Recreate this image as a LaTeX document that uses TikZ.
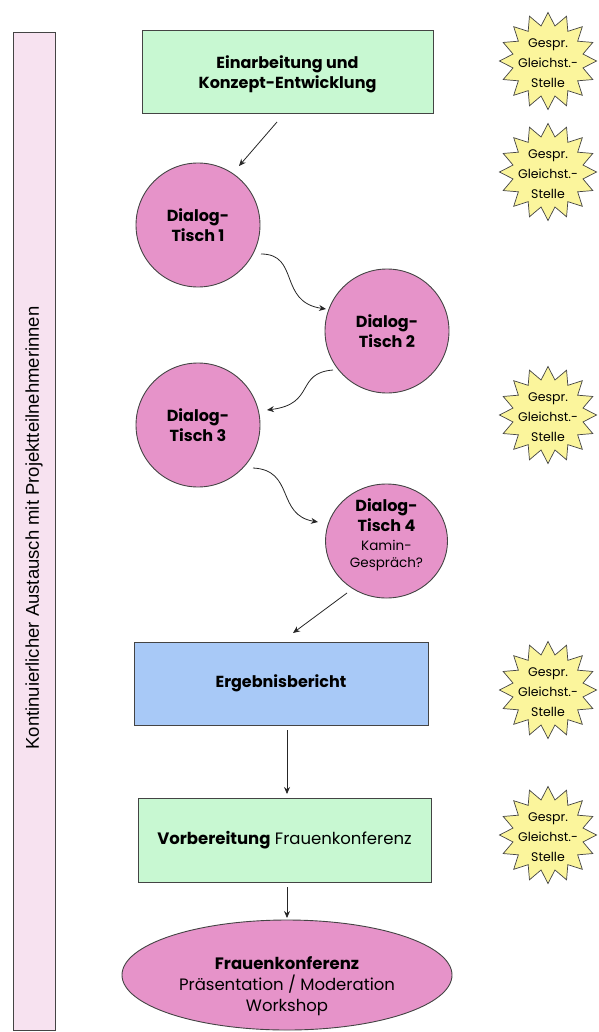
\documentclass[tikz,border=0pt]{standalone}
\usepackage{fontspec}
\setmainfont{Poppins}
\newfontfamily\barfont{Liberation Sans}
\usetikzlibrary{shapes.geometric,arrows.meta}
\definecolor{boxgreen}{HTML}{C8F8D2}
\definecolor{boxblue}{HTML}{A8C9F7}
\definecolor{dpink}{HTML}{E693C9}
\definecolor{barpink}{HTML}{F7E2F0}
\definecolor{staryellow}{HTML}{FBF59C}
\definecolor{edge}{HTML}{444444}
\tikzset{
  stepbox/.style={draw=edge, line width=0.9pt, rectangle, inner sep=0pt, align=center, font=\fontsize{16}{20}\selectfont},
  dialog/.style={draw=edge, line width=0.9pt, circle, fill=dpink, inner sep=0pt, minimum size=124pt, align=center, font=\bfseries\fontsize{16}{20}\selectfont},
  starshape/.style={draw=edge, line width=0.7pt, star, star points=16, star point ratio=1.36, fill=staryellow, inner sep=0pt, minimum size=97pt},
  startext/.style={align=center, font=\fontsize{12.5}{20}\selectfont},
  conn/.style={draw=black!85, line width=0.8pt, -{Stealth[length=7pt,width=6pt]}},
}
\begin{document}
\begin{tikzpicture}[x=1pt,y=-1pt]
\useasboundingbox (0,0) rectangle (598,1032);
% left bar
\node[draw=edge, line width=0.9pt, fill=barpink, minimum width=42pt, minimum height=998pt, inner sep=0pt] (bar) at (34,531) {};
\node[rotate=90, font=\barfont\fontsize{18.5}{20}\selectfont] (bartext) at (34,528) {Kontinuierlicher Austausch mit Projektteilnehmerinnen};
% boxes
\node[stepbox, fill=boxgreen, minimum width=291pt, minimum height=83pt] (b1) at (287.5,71.5) {};
\node[align=center, font=\bfseries\fontsize{16}{20}\selectfont] (b1t) at (287.5,74) {Einarbeitung und\\Konzept-Entwicklung};
\node[dialog] (c1) at (198,225) {Dialog-\\Tisch 1};
\node[dialog] (c2) at (387,331) {Dialog-\\Tisch 2};
\node[dialog] (c3) at (198,425) {Dialog-\\Tisch 3};
\node[draw=edge, line width=0.9pt, ellipse, fill=dpink, inner sep=0pt, minimum width=122pt, minimum height=114pt] (c4) at (386.5,541) {};
\node[align=center, font=\bfseries\fontsize{16}{20}\selectfont] (c4a) at (386.5,515) {Dialog-\\Tisch 4};
\node[align=center, font=\fontsize{13.5}{17}\selectfont] (c4b) at (386.5,556) {Kamin-\\Gespräch?};
\node[stepbox, fill=boxblue, minimum width=294pt, minimum height=83pt] (b2) at (281,683.5) {\bfseries Ergebnisbericht};
\node[stepbox, fill=boxgreen, minimum width=293pt, minimum height=84pt, font=\fontsize{16.5}{20}\selectfont] (b3) at (284.5,840) {\textbf{Vorbereitung} Frauenkonferenz};
\node[draw=edge, line width=0.9pt, ellipse, fill=dpink, inner sep=0pt, minimum width=330pt, minimum height=110pt] (e1) at (287,975) {};
\node[align=center, font=\fontsize{16.5}{21}\selectfont] (e1t) at (287,986) {\textbf{Frauenkonferenz}\\Präsentation / Moderation\\Workshop};
% connectors
\coordinate (a1s) at (277,122);
\coordinate (a1e) at (239,166);
\draw[conn] (a1s) -- (a1e);
\coordinate (k1s) at (261,254);
\coordinate (k1e) at (326,309);
\draw[conn] (k1s) .. controls (300,254) and (278,302) .. (k1e);
\coordinate (k2s) at (333,370);
\coordinate (k2e) at (267,410);
\draw[conn] (k2s) .. controls (295,373) and (316,404) .. (k2e);
\coordinate (k3s) at (253,468);
\coordinate (k3e) at (318,522);
\draw[conn] (k3s) .. controls (295,470) and (276,515) .. (k3e);
\coordinate (a4s) at (347,593);
\coordinate (a4e) at (293,633);
\draw[conn] (a4s) -- (a4e);
\coordinate (a5s) at (287,730);
\coordinate (a5e) at (287,794);
\draw[conn] (a5s) -- (a5e);
\coordinate (a6s) at (287,887);
\coordinate (a6e) at (287,918);
\draw[conn] (a6s) -- (a6e);
% stars
\foreach \n/\yy in {1/61, 2/172, 3/415, 4/690, 5/835}{
  \node[starshape] (s\n) at (548,\yy) {};
  \node[startext] (st\n) at (548,\yy+2) {Gespr.\\Gleichst.-\\Stelle};
}
\end{tikzpicture}
\end{document}
